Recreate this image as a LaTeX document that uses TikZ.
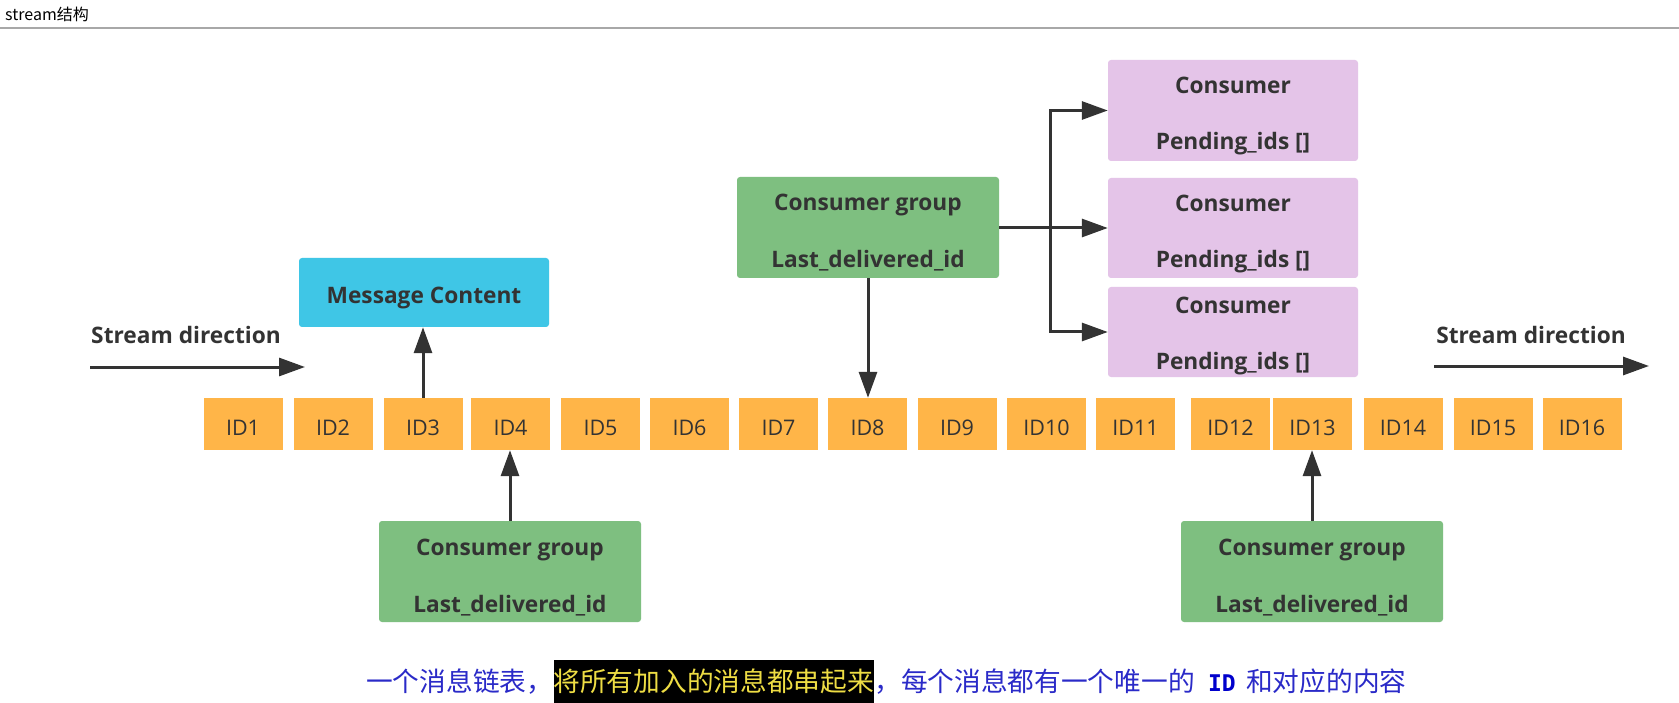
\documentclass[tikz,border=0pt]{standalone}
\usepackage{fontspec}
\setmainfont{Open Sans}
\newfontfamily\cjk{Noto Sans CJK SC}
\newfontfamily\monof{DejaVu Sans Mono}
\usetikzlibrary{arrows.meta}
\definecolor{idor}{HTML}{FFB548}
\definecolor{cgreen}{HTML}{7EBF80}
\definecolor{cpurple}{HTML}{E4C4E8}
\definecolor{ccyan}{HTML}{3FC6E6}
\definecolor{tdark}{HTML}{333333}
\definecolor{cnblue}{HTML}{2A2AC8}
\definecolor{idblue}{HTML}{0000CC}
\definecolor{hlyellow}{HTML}{EEDD44}
\definecolor{rulegrey}{HTML}{A8A8A8}
\begin{document}
\begin{tikzpicture}[x=1pt,y=-1pt,
  idbox/.style={fill=idor, minimum width=79pt, minimum height=52pt, inner sep=0pt, text=tdark, text height=22pt, text depth=0pt, font=\fontsize{21.5}{24}\selectfont},
  grpbox/.style={fill=cgreen, rounded corners=3pt, minimum width=262pt, minimum height=101pt, inner sep=0pt, align=center, text=tdark, text height=85pt, text depth=4pt, font=\bfseries\fontsize{22.7}{57}\selectfont},
  consbox/.style={fill=cpurple, rounded corners=3pt, minimum width=250pt, inner sep=0pt, align=center, text=tdark, text height=83pt, text depth=4pt, font=\bfseries\fontsize{22.7}{56}\selectfont},
  msgbox/.style={fill=ccyan, rounded corners=3pt, minimum width=250pt, minimum height=69pt, inner sep=0pt, text=tdark, text height=22pt, text depth=0pt, font=\bfseries\fontsize{22.7}{26}\selectfont},
  lbl/.style={text=tdark, font=\bfseries\fontsize{22.7}{26}\selectfont, inner sep=0pt},
  arr/.style={draw=tdark, line width=3pt, -{Triangle[length=26pt,width=18pt]}},
  cntext/.style={inner sep=0pt, anchor=base west, text=cnblue, font=\cjk\fontsize{26.7}{30}\selectfont}
]
\useasboundingbox (0,0) rectangle (1679,703);
\fill[white] (0,0) rectangle (1679,703);

% title bar
\node[anchor=west, inner sep=0pt, font=\cjk\fontsize{16}{18}\selectfont, text=black] (title) at (5,14) {stream结构};
\coordinate (rl) at (0,28);
\coordinate (rr) at (1679,28);
\draw[rulegrey, line width=1.5pt] (rl) -- (rr);

% ID boxes
\foreach \x [count=\i] in {243,333,423,510.5,600.5,689.5,778.5,867.5,957,1046.5,1135.5,1230.5,1312.5,1403,1493,1582}
  \node[idbox] (id\i) at (\x,424) {ID\i};

% message content
\node[msgbox] (msg) at (424,292.5) {Message Content};

% stream direction
\node[lbl] (sdl) at (186,335) {Stream direction};
\node[lbl] (sdr) at (1531,335) {Stream direction};
\coordinate (sl1) at (90,367);
\coordinate (sl2) at (305,367);
\coordinate (sr1) at (1434,366);
\coordinate (sr2) at (1649,366);
\draw[arr] (sl1) -- (sl2);
\draw[arr] (sr1) -- (sr2);

% consumer groups
\node[grpbox] (topgrp) at (868,227.5) {Consumer group\\Last\_delivered\_id};
\node[grpbox] (lgrp) at (510,571.5) {Consumer group\\Last\_delivered\_id};
\node[grpbox] (rgrp) at (1312,571.5) {Consumer group\\Last\_delivered\_id};

% consumers
\node[consbox, minimum height=101pt] (c1) at (1233,110.5) {Consumer\\Pending\_ids []};
\node[consbox, minimum height=100pt] (c2) at (1233,228) {Consumer\\Pending\_ids []};
\node[consbox, minimum height=90pt, text height=80pt] (c3) at (1233,332) {Consumer\\Pending\_ids []};

% connectors
\draw[arr] (id3.north) -- (id3.north |- msg.south);
\draw[arr] (topgrp.south) -- (topgrp.south |- id8.north);
\draw[arr] (lgrp.north) -- (lgrp.north |- id4.south);
\draw[arr] (rgrp.north) -- (rgrp.north |- id13.south);
\coordinate (br) at (1050,228);
\draw[arr] (topgrp.east |- c2.west) -- (c2.west);
\draw[arr] (br) |- (c1.west);
\draw[arr] (br) |- (c3.west);

% bottom caption
\node[cntext] (t1) at (366,691) {一个消息链表，};
\node[cntext, fill=black, text=hlyellow, text height=31pt, text depth=12pt] (t2) at (t1.base east) {将所有加入的消息都串起来};
\node[cntext] (t3) at (t2.base east) {，每个消息都有一个唯一的};
\node[cntext, xshift=13pt, text=idblue, font=\monof\bfseries\fontsize{23}{30}\selectfont] (t4) at (t3.base east) {ID};
\node[cntext, xshift=10pt] (t5) at (t4.base east) {和对应的内容};
\end{tikzpicture}
\end{document}
